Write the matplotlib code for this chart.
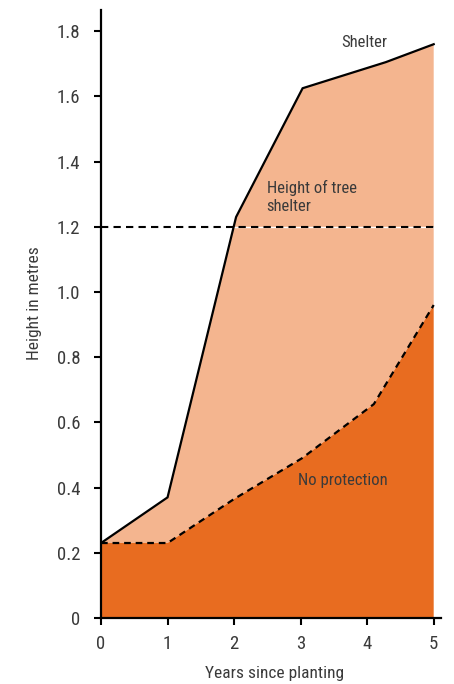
import numpy as np
import matplotlib
matplotlib.use("Agg")
import matplotlib.pyplot as plt
from matplotlib import font_manager as fm

names = {f.name for f in fm.fontManager.ttflist}
cands = ['Liberation Sans Narrow', 'DejaVu Sans Condensed', 'Roboto Condensed',
         'Open Sans Condensed', 'Noto Sans Condensed']
chosen = [c for c in cands if c in names]
plt.rcParams['font.family'] = chosen + ['DejaVu Sans']
plt.rcParams['font.stretch'] = 'condensed'

shelter_x = [0, 1, 2.03, 3.03, 4.28, 5]
shelter_y = [0.23, 0.37, 1.23, 1.625, 1.705, 1.76]
noprot_x = [0, 1, 2, 3.02, 4.1, 5]
noprot_y = [0.23, 0.23, 0.365, 0.49, 0.656, 0.96]
shelter_height = 1.2
x_ticks = [0, 1, 2, 3, 4, 5]
y_ticks = [0, 0.2, 0.4, 0.6, 0.8, 1.0, 1.2, 1.4, 1.6, 1.8]
y_tick_labels = ['0', '0.2', '0.4', '0.6', '0.8', '1.0', '1.2', '1.4', '1.6', '1.8']

light = '#F4B58F'
dark = '#E86C20'
txt = '#3a3a3a'

fig = plt.figure(figsize=(4.54, 6.84), dpi=100)
ax = fig.add_axes([0.2225, 0.0965, 0.9714 - 0.2225, 0.9854 - 0.0965])

poly_x = list(shelter_x) + list(noprot_x[::-1])
poly_y = list(shelter_y) + list(noprot_y[::-1])
ax.fill(poly_x, poly_y, color=light, lw=0, zorder=1)
ax.fill(list(noprot_x) + [noprot_x[-1], noprot_x[0]],
        list(noprot_y) + [0, 0], color=dark, lw=0, zorder=2)

ax.plot(shelter_x, shelter_y, color='black', lw=1.6, zorder=4, solid_joinstyle='miter')
ax.plot(noprot_x, noprot_y, color='black', lw=1.6, ls=(0, (3, 2.2)), zorder=4)

ax.plot([0, 5], [shelter_height, shelter_height], color='white', lw=1.0, zorder=3)
ax.plot([0, 5], [shelter_height, shelter_height], color='black', lw=1.5,
        ls=(0, (3.5, 2.5)), zorder=3)

ax.text(3.95, 1.764, 'Shelter', ha='center', va='center', fontsize=12, color=txt)
ax.text(2.49, 1.345, 'Height of tree\nshelter', ha='left', va='top', fontsize=12,
        color=txt, linespacing=1.3)
ax.text(3.64, 0.423, 'No protection', ha='center', va='center', fontsize=12, color=txt)

ax.set_xlim(0, 5.11)
ax.set_ylim(0, 1.865)
ax.set_xticks(x_ticks)
ax.set_yticks(y_ticks)
ax.set_yticklabels(y_tick_labels)
for s in ['top', 'right']:
    ax.spines[s].set_visible(False)
for s in ['left', 'bottom']:
    ax.spines[s].set_linewidth(1.6)
    ax.spines[s].set_zorder(5)
ax.tick_params(axis='both', direction='out', length=5, width=1.5, colors='black',
               labelcolor=txt, labelsize=13.5)
ax.tick_params(axis='y', pad=10)
ax.tick_params(axis='x', pad=7)
ax.set_ylabel('Height in metres', fontsize=12.5, color=txt, labelpad=10)
ax.set_xlabel('Years since planting', fontsize=12.5, color=txt, labelpad=10)
ax.yaxis.set_label_coords(-0.175, 0.518)
ax.xaxis.set_label_coords(0.51, -0.079)

fig.savefig('out.png', dpi=100)
